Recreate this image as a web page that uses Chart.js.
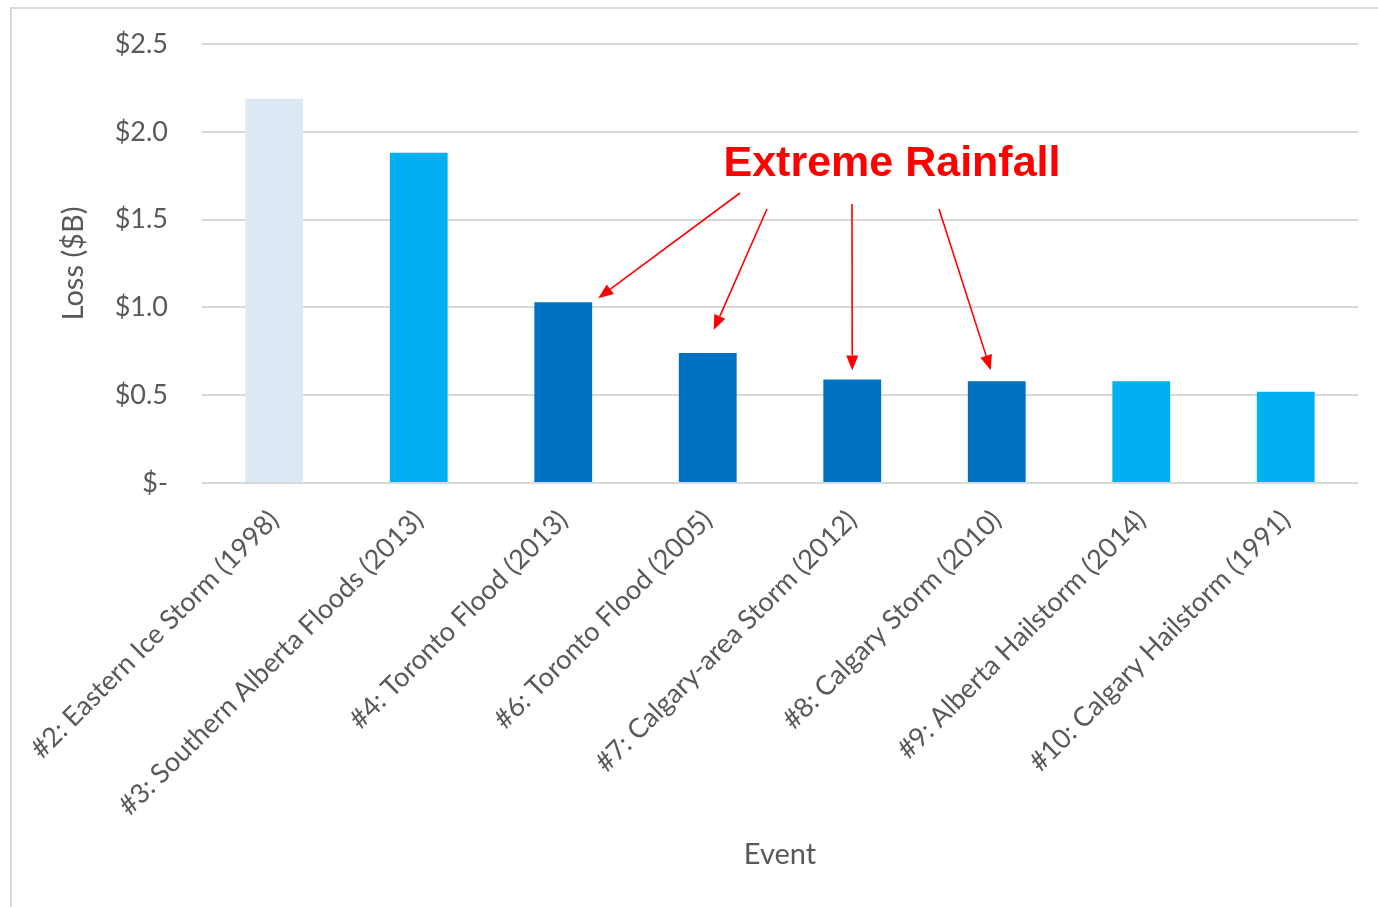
<!DOCTYPE html>
<html lang="en">
<head>
    <meta charset="UTF-8">
    <title>Loss by Event</title>
    <script src="https://cdn.jsdelivr.net/npm/chart.js"></script>
    <style>
        html, body { margin: 0; padding: 0; background: #fff; }
        .wrap { width: 1378px; height: 907px; position: relative; }
    </style>
</head>
<body>
<div class="wrap"><canvas id="lossChart" width="1378" height="907"></canvas></div>
<script>
    // data
    const events = [
        '#2: Eastern Ice Storm (1998)',
        '#3: Southern Alberta Floods (2013)',
        '#4: Toronto Flood (2013)',
        '#6: Toronto Flood (2005)',
        '#7: Calgary-area Storm (2012)',
        '#8: Calgary Storm (2010)',
        '#9: Alberta Hailstorm (2014)',
        '#10: Calgary Hailstorm (1991)'
    ];
    const lossBillions = [2.19, 1.88, 1.03, 0.74, 0.59, 0.58, 0.58, 0.52];
    const barColors = ['#DDE8F5', '#00B0F0', '#0070C0', '#0070C0', '#0070C0', '#0070C0', '#00B0F0', '#00B0F0'];
    const yTicks = [0, 0.5, 1.0, 1.5, 2.0, 2.5];
    // bars the "Extreme Rainfall" arrows point at
    const rainfallBars = [2, 3, 4, 5];

    const textFont = 'Lato, "Open Sans", sans-serif';
    const grey = '#595959';

    // frame + annotation
    const extrasPlugin = {
        id: 'extras',
        beforeDraw(chart) {
            const c = chart.ctx;
            c.save();
            c.strokeStyle = '#d9d9d9';
            c.lineWidth = 2;
            c.beginPath();
            c.moveTo(11, 907);
            c.lineTo(11, 8);
            c.lineTo(1378, 8);
            c.stroke();
            c.restore();
        },
        afterDraw(chart) {
            const c = chart.ctx;
            const meta = chart.getDatasetMeta(0);
            c.save();
            c.fillStyle = '#FF0000';
            c.font = 'bold 43px "Liberation Sans", Arial, sans-serif';
            c.textAlign = 'center';
            c.textBaseline = 'alphabetic';
            c.fillText('Extreme Rainfall', 892, 176);

            // start point, tip offset from bar top centre
            const arrows = [
                { from: [740, 193], dx: 35, dy: -4 },
                { from: [767, 209], dx: 6, dy: -23 },
                { from: [852, 204], dx: 0, dy: -9 },
                { from: [939, 209], dx: -6, dy: -11 }
            ];
            c.strokeStyle = '#FF0000';
            c.lineWidth = 1.6;
            rainfallBars.forEach((idx, i) => {
                const bar = meta.data[idx];
                const a = arrows[i];
                const tx = bar.x + a.dx, ty = bar.y + a.dy;
                const ang = Math.atan2(ty - a.from[1], tx - a.from[0]);
                const len = 15, half = 6;
                const bx = tx - len * Math.cos(ang), by = ty - len * Math.sin(ang);
                c.beginPath();
                c.moveTo(a.from[0], a.from[1]);
                c.lineTo(bx, by);
                c.stroke();
                c.beginPath();
                c.moveTo(tx, ty);
                c.lineTo(bx + half * Math.sin(ang), by - half * Math.cos(ang));
                c.lineTo(bx - half * Math.sin(ang), by + half * Math.cos(ang));
                c.closePath();
                c.fill();
            });
            c.restore();
        }
    };

    new Chart(document.getElementById('lossChart').getContext('2d'), {
        type: 'bar',
        data: {
            labels: events,
            datasets: [{
                data: lossBillions,
                backgroundColor: barColors,
                borderWidth: 0,
                barPercentage: 0.4,
                categoryPercentage: 1.0
            }]
        },
        options: {
            responsive: false,
            animation: false,
            layout: { padding: { left: 52, right: 20, top: 44, bottom: 22 } },
            plugins: {
                legend: { display: false },
                tooltip: { enabled: false }
            },
            scales: {
                x: {
                    grid: { display: false, drawTicks: false },
                    border: { display: false },
                    ticks: {
                        color: grey,
                        font: { family: textFont, size: 27 },
                        maxRotation: 45,
                        minRotation: 45,
                        padding: 21,
                        autoSkip: false
                    },
                    title: {
                        display: true,
                        text: 'Event',
                        color: grey,
                        font: { family: textFont, size: 29 },
                        padding: { top: 0, bottom: 13 }
                    },
                    afterFit(scale) { scale.height = 907 - 483 - 22; }
                },
                y: {
                    min: 0,
                    max: 2.5,
                    afterBuildTicks(scale) { scale.ticks = yTicks.map(v => ({ value: v })); },
                    grid: { color: '#d9d9d9', lineWidth: 2, drawTicks: false },
                    border: { display: false },
                    ticks: {
                        color: grey,
                        font: { family: textFont, size: 27 },
                        padding: 34,
                        callback: v => v === 0 ? '$-' : '$' + v.toFixed(1)
                    },
                    title: {
                        display: true,
                        text: 'Loss ($B)',
                        color: grey,
                        font: { family: textFont, size: 29 },
                        padding: { top: 4, bottom: 4 }
                    },
                    afterFit(scale) {
                        scale.width = 202 - 52;
                        scale.paddingTop = 0;
                        scale.paddingBottom = 0;
                    }
                }
            }
        },
        plugins: [extrasPlugin]
    });
</script>
</body>
</html>
